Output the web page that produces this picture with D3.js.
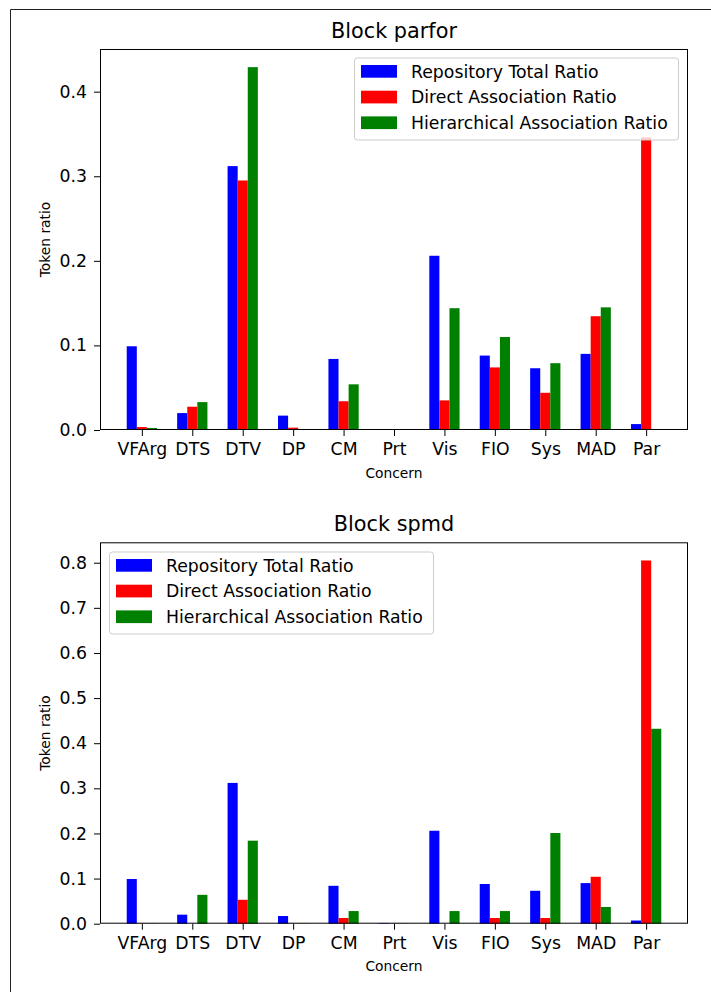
<!DOCTYPE html>
<html>
<head>
<meta charset="utf-8">
<script src="https://cdn.jsdelivr.net/npm/d3@7/dist/d3.min.js"></script>
<style>
  html, body { margin: 0; padding: 0; background: #fff; }
  svg { display: block; font-family: "DejaVu Sans", sans-serif; }
</style>
</head>
<body>
<svg id="chart" width="711" height="992"></svg>
<script>
const concerns = ["VFArg", "DTS", "DTV", "DP", "CM", "Prt", "Vis", "FIO", "Sys", "MAD", "Par"];
const seriesNames = ["Repository Total Ratio", "Direct Association Ratio", "Hierarchical Association Ratio"];
const seriesColors = ["#0000ff", "#ff0000", "#008000"];

// same repository totals in both blocks
const repoTotal = [0.099, 0.020, 0.312, 0.017, 0.084, 0.0012, 0.206, 0.088, 0.073, 0.090, 0.007];

const parforDirect = [0.0035, 0.0275, 0.295, 0.0028, 0.034, 0, 0.035, 0.074, 0.044, 0.1345, 0.346];
const parforHier = [0.0024, 0.033, 0.429, 0, 0.054, 0, 0.144, 0.110, 0.079, 0.145, 0];

const spmdDirect = [0.0005, 0, 0.053, 0.0005, 0.0126, 0.0005, 0, 0.0126, 0.0126, 0.104, 0.805];
const spmdHier = [0.0005, 0.064, 0.184, 0.0005, 0.028, 0.0005, 0.028, 0.028, 0.201, 0.037, 0.432];

const tickFont = "17.3px";
const labelFont = "13.8px";
const titleFont = "20.8px";

const svg = d3.select("#chart");

// outer frame (partly cut off by the window)
svg.append("path")
  .attr("d", "M10.5,992 V9.5 H711")
  .attr("fill", "none")
  .attr("stroke", "#222")
  .attr("stroke-width", 1);

function drawBlock(title, series, top, bottom, legendPos) {
  const left = 100, right = 688;
  const g = svg.append("g");

  const x = d3.scaleLinear().domain([-0.83, 10.83]).range([left, right]);
  const ymax = d3.max(series.flat()) * 1.05;
  const y = d3.scaleLinear().domain([0, ymax]).range([bottom, top]);
  const bw = x(0.2) - x(0);

  // bars
  series.forEach((vals, s) => {
    g.append("g")
      .selectAll("rect")
      .data(vals)
      .enter()
      .append("rect")
      .attr("x", (d, i) => x(i + (s - 1) * 0.2) - bw / 2)
      .attr("y", (d) => y(d))
      .attr("width", bw)
      .attr("height", (d) => y(0) - y(d))
      .attr("fill", seriesColors[s]);
  });

  // axes
  const yAxis = d3.axisLeft(y)
    .tickValues(d3.range(0, ymax, 0.1))
    .tickFormat(d3.format(".1f"))
    .tickSize(6)
    .tickPadding(7);
  const ya = g.append("g").attr("transform", `translate(${left},0)`).call(yAxis);

  const xAxis = d3.axisBottom(x)
    .tickValues(d3.range(concerns.length))
    .tickFormat((i) => concerns[i])
    .tickSize(6)
    .tickPadding(7);
  const xa = g.append("g").attr("transform", `translate(0,${bottom})`).call(xAxis);

  [ya, xa].forEach((a) => {
    a.select(".domain").remove();
    a.selectAll("line").attr("stroke", "#000");
    a.selectAll("text")
      .attr("fill", "#000")
      .style("font-family", "DejaVu Sans, sans-serif")
      .style("font-size", tickFont);
  });

  // frame of the axes
  g.append("rect")
    .attr("x", left + 0.5)
    .attr("y", top + 0.5)
    .attr("width", right - left - 1)
    .attr("height", bottom - top - 1)
    .attr("fill", "none")
    .attr("stroke", "#000")
    .attr("stroke-width", 1);

  // title and labels
  g.append("text")
    .attr("x", (left + right) / 2)
    .attr("y", top - 11)
    .attr("text-anchor", "middle")
    .style("font-size", titleFont)
    .text(title);

  g.append("text")
    .attr("x", (left + right) / 2)
    .attr("y", bottom + 47.5)
    .attr("text-anchor", "middle")
    .style("font-size", labelFont)
    .text("Concern");

  g.append("text")
    .attr("transform", `translate(50,${(top + bottom) / 2}) rotate(-90)`)
    .attr("text-anchor", "middle")
    .style("font-size", labelFont)
    .text("Token ratio");

  // legend
  const lg = g.append("g").attr("transform", `translate(${legendPos[0]},${legendPos[1]})`);
  lg.append("rect")
    .attr("x", 0.5)
    .attr("y", 0.5)
    .attr("width", 324)
    .attr("height", 82)
    .attr("rx", 3)
    .attr("fill", "#fff")
    .attr("fill-opacity", 0.8)
    .attr("stroke", "#cccccc")
    .attr("stroke-width", 1);

  seriesNames.forEach((name, s) => {
    lg.append("rect")
      .attr("x", 7)
      .attr("y", 7.5 + s * 25.7)
      .attr("width", 36)
      .attr("height", 12.7)
      .attr("fill", seriesColors[s]);
    lg.append("text")
      .attr("x", 57)
      .attr("y", 20 + s * 25.7)
      .style("font-size", tickFont)
      .text(name);
  });
}

drawBlock("Block parfor", [repoTotal, parforDirect, parforHier], 49, 430, [354, 57.5]);
drawBlock("Block spmd", [repoTotal, spmdDirect, spmdHier], 542.3, 923.7, [109, 551.5]);
</script>
</body>
</html>
